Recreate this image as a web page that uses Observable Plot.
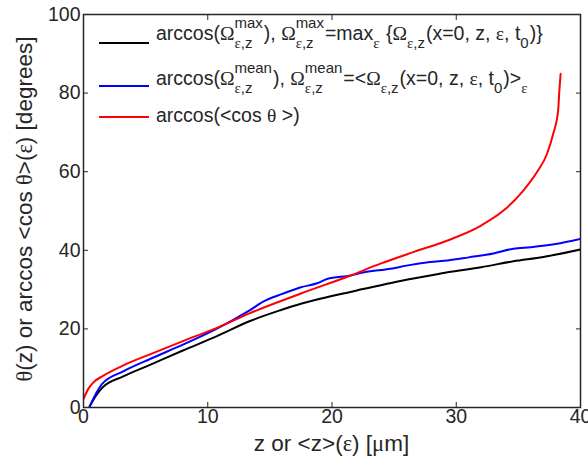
<!DOCTYPE html>
<html><head><meta charset="utf-8">
<script src="https://cdn.jsdelivr.net/npm/d3@7"></script>
<script src="https://cdn.jsdelivr.net/npm/@observablehq/plot@0.6"></script>
<style>body{margin:0;background:#fff} svg{display:block}</style>
</head><body><div id="chart"></div>
<script>
// ---- data ----
const redZ     = [0, 0.4, 0.8, 1.6, 3.2, 5.4, 8.0, 10.7, 13.4, 17.5, 21.5, 23.9, 26.6, 29.3, 32.0, 33.8, 35.4, 36.5, 37.3, 37.8, 38.2, 38.3, 38.4];
const redTheta = [2.2, 4.8, 6.4, 8.1, 10.7, 13.6, 16.9, 20.2, 24.0, 29.0, 33.6, 36.6, 39.6, 42.5, 46.3, 50.1, 55.2, 59.9, 64.5, 69.6, 75.6, 80.7, 84.9];
const blueZ     = [0.5, 1.0, 1.5, 3.2, 5.4, 8.0, 10.7, 13.4, 14.5, 16.0, 17.5, 18.8, 19.6, 21.5, 22.6, 24.7, 26.0, 27.9, 29.3, 31.0, 33.0, 34.6, 36.0, 38.0, 40.0];
const blueTheta = [0.3, 3.5, 6.0, 9.2, 12.4, 16.0, 20.0, 24.8, 27.0, 28.9, 30.6, 31.6, 32.7, 33.6, 34.4, 35.3, 36.1, 37.0, 37.4, 38.2, 39.2, 40.4, 40.8, 41.6, 42.9];
const blackZ     = [0.5, 1.0, 1.5, 3.2, 5.4, 8.0, 10.7, 13.4, 15.9, 17.5, 19.9, 22.6, 25.2, 27.9, 29.3, 32.0, 34.6, 37.0, 40.0];
const blackTheta = [0.3, 3.0, 5.0, 7.9, 10.9, 14.5, 18.1, 22.0, 24.8, 26.4, 28.3, 30.2, 32.0, 33.6, 34.4, 35.7, 37.2, 38.3, 40.2];
const xTicks = [0, 10, 20, 30, 40];
const yTicks = [0, 20, 40, 60, 80, 100];
const seriesColors = ["black", "blue", "red"];

const rows = [];
blackZ.forEach((z, i) => rows.push({s: "black", z, t: blackTheta[i]}));
blueZ.forEach((z, i) => rows.push({s: "blue", z, t: blueTheta[i]}));
redZ.forEach((z, i) => rows.push({s: "red", z, t: redTheta[i]}));

const SANS = "'Liberation Sans', Arial, sans-serif";
const SERIF = "'Liberation Serif', 'Times New Roman', serif";
const INK = "#262626";

const plot = Plot.plot({
  width: 588, height: 462,
  marginLeft: 83, marginRight: 8, marginTop: 14, marginBottom: 55,
  style: {fontFamily: SANS, fontSize: "19.5px", color: INK, background: "#fff"},
  x: {domain: [0, 40], label: null},
  y: {domain: [0, 100], label: null},
  color: {domain: seriesColors, range: seriesColors},
  marks: [
    Plot.line(rows, {x: "z", y: "t", z: "s", stroke: "s", strokeWidth: 2, curve: "monotone-x", clip: true}),
    Plot.frame({stroke: INK, strokeWidth: 1.5}),
    Plot.axisX({ticks: xTicks, tickSize: -5, tickFormat: () => "", label: null, stroke: INK}),
    Plot.axisX({ticks: xTicks, tickSize: 0, tickPadding: 2, label: null, fill: INK}),
    Plot.axisX({anchor: "top", ticks: xTicks, tickSize: -5, tickFormat: () => "", label: null, stroke: INK}),
    Plot.axisY({ticks: yTicks, tickSize: -5, tickFormat: () => "", label: null, stroke: INK}),
    Plot.axisY({ticks: yTicks, tickSize: 0, tickPadding: 3, label: null, fill: INK}),
    Plot.axisY({anchor: "right", ticks: yTicks, tickSize: -5, tickFormat: () => "", label: null, stroke: INK})
  ]
});
document.getElementById("chart").append(plot);

const svg = d3.select(plot);
const g = svg.append("g").attr("fill", INK).attr("text-anchor", "start");

function put(txt, font, size, x, y) {
  const t = g.append("text").attr("x", x).attr("y", y).attr("text-anchor", "start")
    .attr("font-family", font).attr("font-size", size).text(txt);
  return t.node().getComputedTextLength();
}
function seq(segs, size, x, y) {
  let w = 0;
  for (const [txt, font] of segs) w += put(txt, font, size, x + w, y);
  return w;
}
const MAIN = 19.5, SMALL = 15, LABEL = 22.5;
function rich(parts, x0, y0) {
  let x = x0;
  for (const p of parts) {
    if (Array.isArray(p)) {
      x += put(p[0], p[1], MAIN, x, y0);
    } else {
      let w1 = 0, w2 = 0;
      if (p.sup) w1 = seq(p.sup, SMALL, x, y0 - 12);
      if (p.sub) w2 = seq(p.sub, SMALL, x, y0 + 8);
      x += Math.max(w1, w2) + 1;
    }
  }
}
const EZ = [["ε", SERIF], [",z", SANS]];
const legendRows = [
  {color: "black", lineY: 43, base: 40, parts: [
    ["arccos(", SANS], ["Ω", SERIF], {sup: [["max", SANS]], sub: EZ}, ["), ", SANS], ["Ω", SERIF],
    {sup: [["max", SANS]], sub: EZ}, ["=max", SANS], {sub: [["ε", SERIF]]}, [" {", SANS], ["Ω", SERIF],
    {sub: EZ}, ["(x=0, z, ", SANS], ["ε", SERIF], [", t", SANS], {sub: [["0", SANS]]}, [")}", SANS]]},
  {color: "blue", lineY: 86, base: 85, parts: [
    ["arccos(", SANS], ["Ω", SERIF], {sup: [["mean", SANS]], sub: EZ}, ["), ", SANS], ["Ω", SERIF],
    {sup: [["mean", SANS]], sub: EZ}, ["=<", SANS], ["Ω", SERIF], {sub: EZ}, ["(x=0, z, ", SANS], ["ε", SERIF],
    [", t", SANS], {sub: [["0", SANS]]}, [")>", SANS], {sub: [["ε", SERIF]]}]},
  {color: "red", lineY: 117, base: 122, parts: [
    ["arccos(<cos ", SANS], ["θ", SERIF], [" >)", SANS]]}
];
for (const r of legendRows) {
  svg.append("line").attr("x1", 99).attr("x2", 149).attr("y1", r.lineY).attr("y2", r.lineY)
    .attr("stroke", r.color).attr("stroke-width", 2);
  rich(r.parts, 156, r.base);
}

// axis labels
const xl = svg.append("text").attr("x", (83 + 580) / 2).attr("y", 451).attr("text-anchor", "middle")
  .attr("font-family", SANS).attr("font-size", LABEL).attr("fill", INK);
[["z or <z>(", SANS], ["ε", SERIF], [") [", SANS], ["μ", SERIF], ["m]", SANS]]
  .forEach(([t, f]) => xl.append("tspan").attr("font-family", f).text(t));

const yl = svg.append("text").attr("transform", "translate(32,209) rotate(-90)").attr("text-anchor", "middle")
  .attr("font-family", SANS).attr("font-size", LABEL).attr("fill", INK);
[["θ", SERIF], ["(z) or arccos <cos ", SANS], ["θ", SERIF], [">(", SANS], ["ε", SERIF], [") [degrees]", SANS]]
  .forEach(([t, f]) => yl.append("tspan").attr("font-family", f).text(t));
</script>
</body></html>
